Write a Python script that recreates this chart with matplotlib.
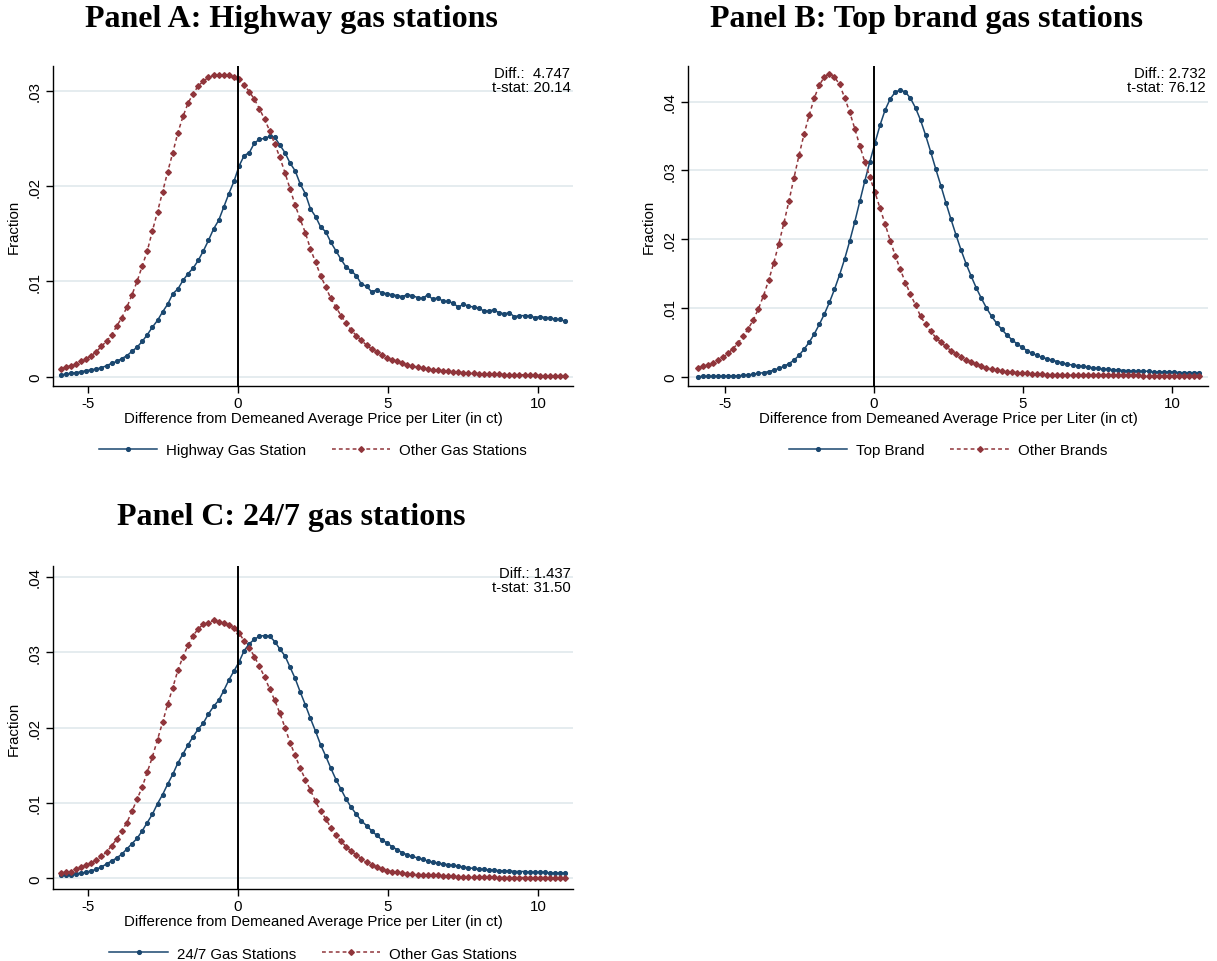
import matplotlib
matplotlib.use("Agg")
import matplotlib.pyplot as plt
from matplotlib.ticker import FuncFormatter
import numpy as np

plt.rcParams['font.family'] = ['Liberation Sans', 'DejaVu Sans']

# price difference bins (ct), bin centres
price_bins = np.linspace(-5.915, 10.915, 100)

highway = [.00017, .00028, .00035, .00042, .00052, .00063, .00073, .00080, .00094, .00115,
           .0014, .0016, .0019, .0022, .00266, .0031, .0037, .0044, .0052, .0059,
           .0068, .0076, .0087, .0092, .0101, .0108, .0114, .0122, .0132, .0143,
           .0155, .0164, .0178, .0192, .0205, .0221, .0232, .0235, .0245, .0249,
           .0250, .0252, .0251, .0243, .0235, .0224, .0216, .0202, .0192, .0176,
           .0168, .0157, .0152, .0141, .0132, .0123, .0115, .0111, .0106, .0097,
           .0095, .0089, .0091, .0088, .0087, .0086, .0085, .0084, .0086, .0085,
           .0083, .0082, .0086, .0081, .0083, .0079, .0079, .0077, .0073, .0076,
           .0074, .0073, .0072, .0069, .0069, .0070, .0067, .0066, .0067, .0063,
           .0064, .0064, .0064, .0062, .0063, .0062, .0062, .0060, .0060, .0058]
highway_other = [.0008, .0010, .00115, .0013, .0016, .0019, .0022, .0026, .0032, .0037,
                 .0044, .0053, .0062, .0073, .0086, .0100, .0116, .0132, .0153, .0173,
                 .0194, .0215, .0235, .0256, .0273, .0287, .0297, .0305, .0310, .0314,
                 .0316, .0316, .0316, .0316, .0314, .0312, .0306, .0299, .0291, .0281,
                 .0270, .0258, .0244, .0230, .0214, .0197, .0180, .0165, .0151, .0134,
                 .0120, .0106, .0094, .0082, .0073, .0064, .0056, .0049, .0043, .0038,
                 .0033, .0029, .0026, .0023, .0020, .0018, .0016, .0014, .0012, .0011,
                 .0010, .0009, .0008, .0007, .0007, .0006, .0006, .0005, .0005, .0004,
                 .0004, .0004, .0003, .0003, .0003, .0003, .0003, .0002, .0002, .0002,
                 .0002, .0002, .0002, .0002, .0001, .0001, .0001, .0001, .0001, .0001]

top_brand = [.00003, .00004, .00005, .00006, .00007, .00008, .0001, .00012, .00015, .0002,
             .00027, .00036, .00048, .0006, .00075, .00095, .0012, .0015, .0019, .0024,
             .0031, .0040, .0050, .0062, .0076, .0091, .0108, .0127, .0148, .0171,
             .0197, .0225, .0255, .0285, .0313, .0340, .0366, .0388, .0404, .0414,
             .0417, .0414, .0405, .0391, .0373, .0351, .0327, .0302, .0278, .0253,
             .0229, .0206, .0184, .0164, .0146, .0129, .0114, .0100, .0088, .0078,
             .0069, .0061, .0054, .0048, .0043, .0038, .0034, .0031, .0028, .0026,
             .0024, .0022, .0020, .0018, .0017, .0016, .0015, .0014, .0013, .0012,
             .0011, .0011, .0010, .0010, .0009, .0009, .0008, .0008, .0008, .0008,
             .0007, .0007, .0007, .0007, .0007, .0006, .0006, .0006, .0006, .0006]
other_brands = [.0013, .0015, .0017, .0020, .0024, .0028, .0034, .0041, .0049, .0059,
                .0070, .0083, .0099, .0118, .0140, .0165, .0193, .0223, .0255, .0289,
                .0322, .0353, .0380, .0405, .0424, .0436, .0440, .0436, .0425, .0406,
                .0385, .0361, .0336, .0312, .0290, .0268, .0245, .0222, .0198, .0176,
                .0156, .0137, .0120, .0104, .0088, .0076, .0066, .0057, .0050, .0044,
                .0038, .0033, .0029, .0025, .0021, .0018, .0016, .0013, .0011, .0010,
                .0008, .0007, .0007, .0006, .0005, .0005, .0004, .0004, .0004, .0003,
                .0003, .0003, .0003, .0003, .0002, .0002, .0002, .0002, .0002, .0002,
                .0002, .0002, .0002, .0002, .0002, .0002, .0002, .0002, .0001, .0001,
                .0001, .0001, .0001, .0001, .0001, .0001, .0001, .0001, .0001, .0001]

open_247 = [.0004, .0005, .0005, .0006, .0007, .0008, .0010, .0012, .0015, .0019,
            .0023, .0027, .0032, .0039, .0046, .0053, .0063, .0074, .0085, .0099,
            .0111, .0125, .0138, .0153, .0165, .0177, .0188, .0198, .0206, .0218,
            .0228, .0236, .0249, .0263, .0275, .0287, .0302, .0311, .0317, .0321,
            .0322, .0321, .0314, .0304, .0295, .0280, .0265, .0247, .0230, .0212,
            .0195, .0177, .0162, .0146, .0131, .0118, .0105, .0094, .0085, .0076,
            .0070, .0063, .0057, .0051, .0047, .0042, .0038, .0034, .0031, .0029,
            .0027, .0025, .0023, .0021, .0020, .0019, .0018, .0017, .0016, .0015,
            .0014, .0013, .0012, .0012, .0011, .0011, .0010, .0010, .0010, .0009,
            .0009, .0009, .0008, .0008, .0008, .0008, .0007, .0007, .0007, .0007]
open_247_other = [.0007, .0008, .0009, .0012, .0015, .0017, .0020, .0024, .0029, .0035,
                  .0043, .0052, .0063, .0074, .0089, .0105, .0121, .0141, .0161, .0184,
                  .0207, .0231, .0253, .0276, .0294, .0309, .0322, .0331, .0337, .0339,
                  .0342, .0340, .0338, .0336, .0332, .0325, .0315, .0306, .0294, .0281,
                  .0267, .0251, .0236, .0219, .0200, .0180, .0163, .0146, .0131, .0117,
                  .0102, .0089, .0079, .0067, .0057, .0049, .0042, .0036, .0031, .0026,
                  .0021, .0018, .0015, .0012, .0010, .0009, .0008, .0007, .0006, .0006,
                  .0005, .0005, .0004, .0004, .0004, .0003, .0003, .0003, .0002, .0002,
                  .0002, .0002, .0002, .0002, .0002, .0002, .0001, .0001, .0001, .0001,
                  .0001, .0001, .0001, .0001, .0001, .0001, .0001, .0001, .0001, .0001]

titles = ['Panel A: Highway gas stations', 'Panel B: Top brand gas stations',
          'Panel C: 24/7 gas stations']
legend_labels = [('Highway Gas Station', 'Other Gas Stations'),
                 ('Top Brand', 'Other Brands'),
                 ('24/7 Gas Stations', 'Other Gas Stations')]
stats = ['Diff.:  4.747\nt-stat: 20.14', 'Diff.: 2.732\nt-stat: 76.12',
         'Diff.: 1.437\nt-stat: 31.50']
yticks = [[0, .01, .02, .03], [0, .01, .02, .03, .04], [0, .01, .02, .03, .04]]

BLUE = '#1a476f'
RED = '#90353b'
GRID = '#e3ebee'

W, H = 1217, 962
fig = plt.figure(figsize=(W / 100, H / 100), dpi=100)

# axes boxes in pixels: left, top, right, bottom
boxes = [(53, 67, 573, 387), (688, 67, 1208, 387), (53, 567, 573, 890)]
xlims = [(-6.17, 11.17), (-6.24, 11.21), (-6.17, 11.17)]
ylims = [(-0.00098, 0.03259), (-0.00135, 0.04519), (-0.00142, 0.04142)]
title_pos = [(291, 20), (926, 20), (291, 518)]
series = [(highway, highway_other), (top_brand, other_brands), (open_247, open_247_other)]


def fmt(v, pos):
    if abs(v) < 1e-9:
        return '0'
    return ('%.2f' % v).lstrip('0')


for k in range(3):
    l, t, r, b = boxes[k]
    ax = fig.add_axes([l / W, 1 - b / H, (r - l) / W, (b - t) / H])
    blue, red = series[k]
    ax.plot(price_bins, blue, color=BLUE, lw=1.1, marker='o', ms=2.7,
            mec=BLUE, mfc=BLUE, label=legend_labels[k][0], zorder=3)
    ax.plot(price_bins, red, color=RED, lw=1.1, ls=(0, (2.5, 2)), marker='D', ms=2.9,
            mec=RED, mfc=RED, label=legend_labels[k][1], zorder=3)
    ax.axvline(0, color='black', lw=1.4, zorder=4)

    ax.set_xlim(*xlims[k])
    ax.set_ylim(*ylims[k])
    ax.set_xticks([-5, 0, 5, 10])
    ax.set_xticklabels(['-5', '0', '5', '10'])
    ax.set_yticks(yticks[k])
    ax.yaxis.set_major_formatter(FuncFormatter(fmt))
    ax.grid(axis='y', color=GRID, lw=1.3, zorder=0)
    ax.set_axisbelow(True)
    for s in ['top', 'right']:
        ax.spines[s].set_visible(False)
    for s in ['left', 'bottom']:
        ax.spines[s].set_linewidth(1.0)
    ax.tick_params(direction='out', length=5, width=1.0, labelsize=10.8, pad=2)
    for lab in ax.get_yticklabels():
        lab.set_rotation(90)
        lab.set_va('center')
    ax.tick_params(axis='y', pad=3)

    ax.set_xlabel('Difference from Demeaned Average Price per Liter (in ct)', fontsize=10.8, labelpad=1)
    ax.set_ylabel('Fraction', fontsize=10.8)
    ax.yaxis.set_label_coords(-0.062, 0.5)

    ax.text(0.995, 1.0, stats[k], transform=ax.transAxes, ha='right', va='top',
            fontsize=10.7, multialignment='right', linespacing=1.0)

    ax.legend(loc='center', bbox_to_anchor=(0.5, -0.2), ncol=2, frameon=False,
              fontsize=10.8, handlelength=3.9, handletextpad=0.6, columnspacing=1.7,
              numpoints=1, markerscale=1.0)

    fig.text(title_pos[k][0] / W, 1 - title_pos[k][1] / H, titles[k], ha='center', va='center',
             fontsize=23, fontweight='bold', family='Liberation Serif')

fig.savefig('out.png', dpi=100, facecolor='white')
